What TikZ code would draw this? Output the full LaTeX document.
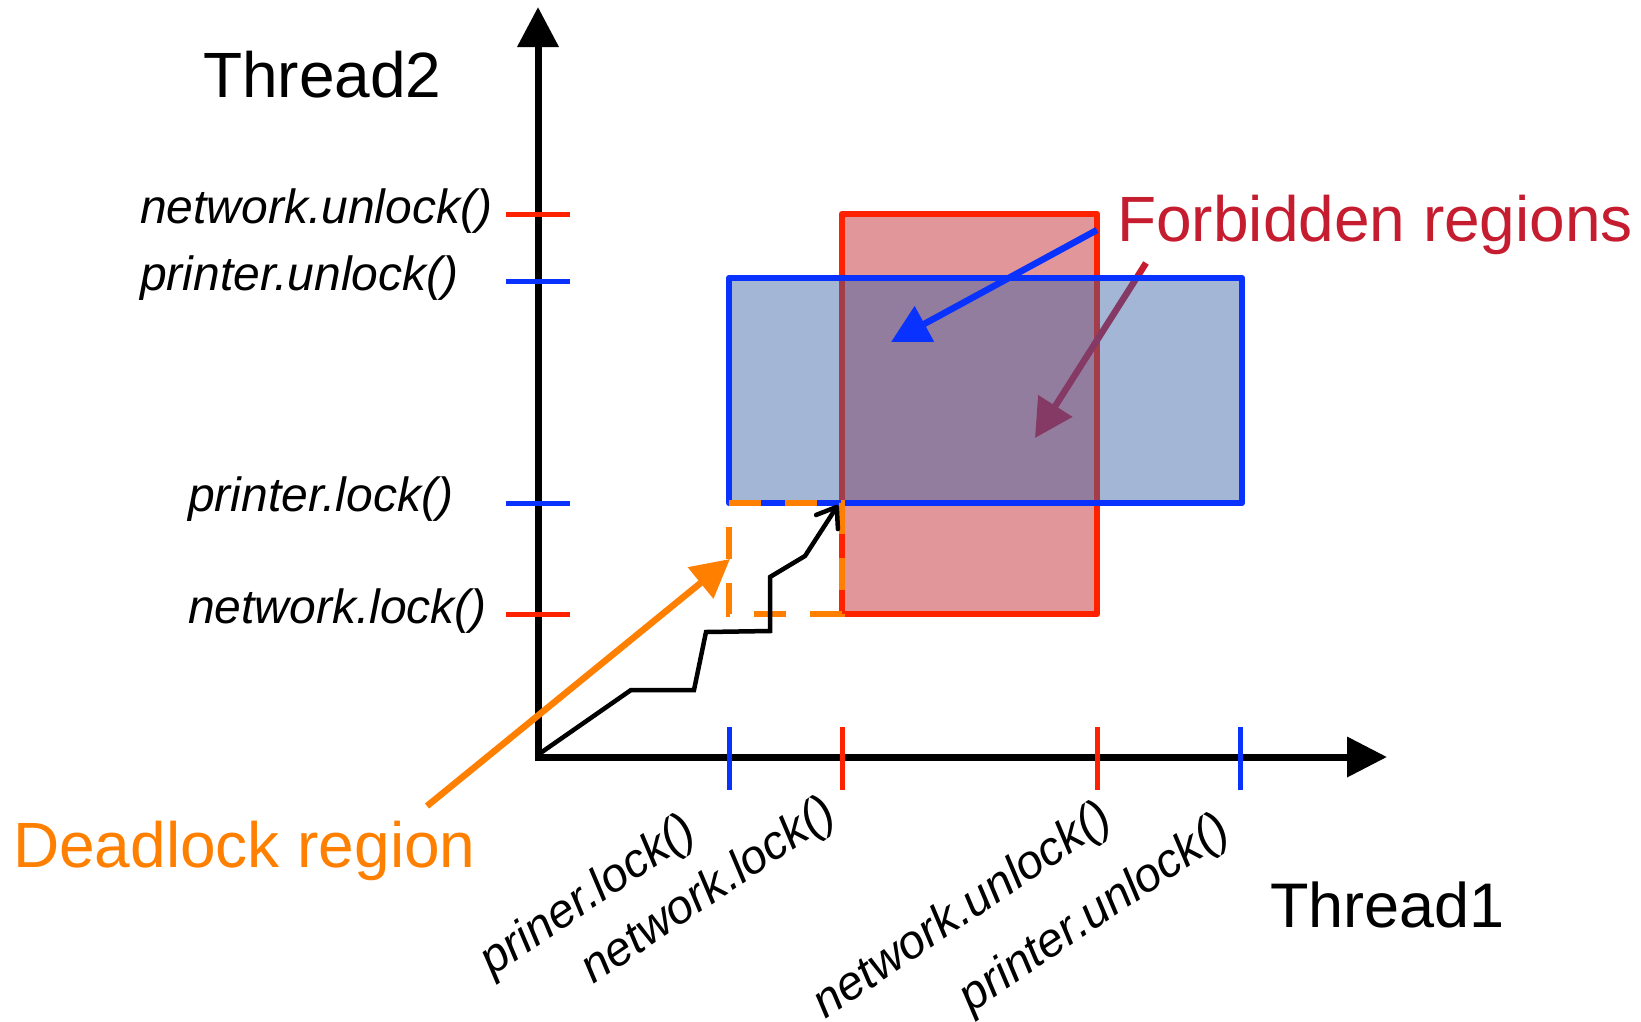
\documentclass[tikz,border=0pt]{standalone}
\usepackage{fontspec}
\setmainfont{Liberation Sans}
\usetikzlibrary{arrows.meta}
\definecolor{rred}{RGB}{255,34,0}
\definecolor{rfill}{RGB}{225,151,154}
\definecolor{bblue}{RGB}{10,50,255}
\definecolor{bfill}{RGB}{53,95,164}
\definecolor{crim}{RGB}{198,28,48}
\definecolor{orng}{RGB}{255,128,0}
\begin{document}
\begin{tikzpicture}[x=1pt,y=-1pt,
  axisline/.style={line width=7pt, black, line join=miter},
  tickred/.style={line width=5pt, rred},
  tickblue/.style={line width=5pt, bblue},
  bigtext/.style={font=\fontsize{64}{70}\selectfont, inner sep=0pt, anchor=base west},
  ylab/.style={font=\fontsize{48}{52}\selectfont\itshape, inner sep=0pt, anchor=base west},
  xlab/.style={font=\fontsize{47.5}{50}\selectfont\itshape, inner sep=0pt, rotate=34},
  callout/.style={line width=6.5pt, -{Triangle[length=38pt,width=39pt]}},
  regionline/.style={line width=6.5pt, line join=round},
]
\useasboundingbox (0,0) rectangle (1641,1021);
\fill[white] (0,0) rectangle (1641,1021);

% named points
\coordinate (O) at (538,757);
\coordinate (ytop) at (538,7);
\coordinate (xend) at (1387,757);
\coordinate (crA) at (1146,263);
\coordinate (crB) at (1035,438);
\coordinate (blA) at (1097,230);
\coordinate (blB) at (891,342);
\coordinate (orA) at (427,806);
\coordinate (orB) at (730,559);
\coordinate (dlTL) at (729,503);
\coordinate (dlTR) at (842,503);
\coordinate (dlBR) at (842,614);
\coordinate (dlBL) at (729,614);

% red forbidden region
\draw[regionline, rred, fill=rfill] (842,214) rectangle (1097,614);
% crimson callout (under blue region)
\draw[callout, crim] (crA) -- (crB);
% blue forbidden region (translucent)
\fill[bfill, fill opacity=0.45] (729,278) rectangle (1242,503);
\draw[regionline, bblue] (729,278) rectangle (1242,503);
% blue callout
\draw[callout, bblue] (blA) -- (blB);
% deadlock region
\draw[orng, line width=6.5pt, dash pattern=on 32pt off 24pt] (dlTL) -- (dlTR) -- (dlBR) -- (dlBL) -- cycle;

% axes
\draw[axisline, {Triangle[length=40pt,width=40pt]}-{Triangle[length=40pt,width=39pt]}] (ytop) -- (O) -- (xend);

% y ticks
\draw[tickred] (506,214) -- (570,214);
\draw[tickblue] (506,281) -- (570,281);
\draw[tickblue] (506,503) -- (570,503);
\draw[tickred] (506,614) -- (570,614);
% x ticks
\draw[tickblue] (729,727) -- (729,790);
\draw[tickred] (842,727) -- (842,790);
\draw[tickred] (1097,727) -- (1097,790);
\draw[tickblue] (1240,727) -- (1240,790);

% execution path
\draw[black, line width=4.5pt, line join=miter, -{Straight Barb[length=18pt,width=26pt,round]}]
  (539,754) -- (631,690) -- (694,690) -- (706,632) -- (770,631) -- (770,577) -- (805,556) -- (838,505);

% deadlock callout
\draw[callout, orng] (orA) -- (orB);

% texts
\node[bigtext] (t2) at (203,97) {Thread2};
\node[bigtext, font=\fontsize{63}{70}\selectfont] (t1) at (1270,927) {Thread1};
\node[bigtext, text=crim] (fr) at (1117,241) {Forbidden regions};
\node[bigtext, text=orng] (dr) at (13,867) {Deadlock region};

\node[ylab] (yl1) at (140,223) {network.unlock()};
\node[ylab] (yl2) at (140,290) {printer.unlock()};
\node[ylab] (yl3) at (188,511) {printer.lock()};
\node[ylab] (yl4) at (188,623) {network.lock()};

\node[xlab] (xl1) at (589,897) {priner.lock()};
\node[xlab] (xl2) at (709,892) {network.lock()};
\node[xlab] (xl3) at (963,912) {network.unlock()};
\node[xlab] (xl4) at (1095,915) {printer.unlock()};
\end{tikzpicture}
\end{document}
